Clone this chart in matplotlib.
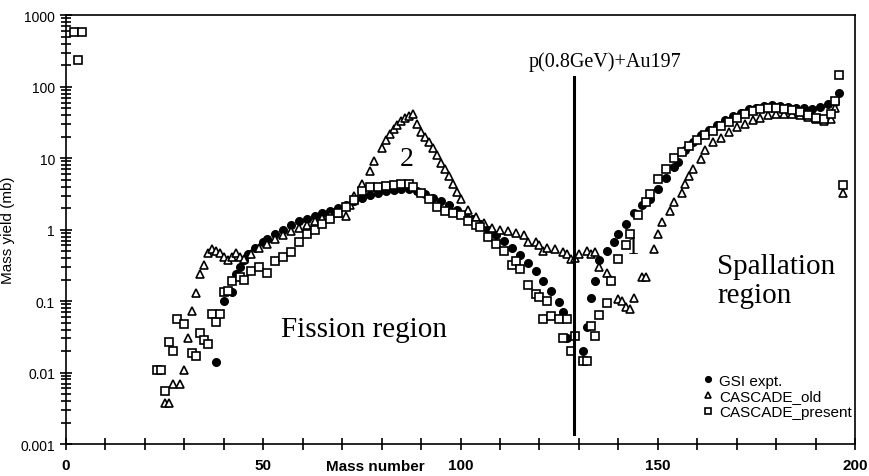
import matplotlib
matplotlib.use("Agg")
import matplotlib.pyplot as plt
from matplotlib.ticker import MultipleLocator, LogLocator, FixedLocator, FixedFormatter

# data
gsi_a = [38, 40, 42, 43, 44, 45, 46, 48, 50, 51, 53, 55, 57, 59, 61, 63, 65, 67, 69, 71,
         73, 75, 77, 79, 81, 83, 85, 87, 89, 91, 93, 95, 97, 99, 101, 103, 105, 107, 109,
         111, 113, 115, 117, 119, 121, 123, 125, 126, 127, 131, 132, 133, 134, 135, 137,
         139, 140, 142, 144, 146, 148, 150, 152, 154, 155, 157, 159, 161, 163, 165, 167,
         169, 171, 173, 175, 177, 179, 181, 183, 185, 187, 189, 191, 193, 195, 196]
gsi_y = [0.014, 0.10, 0.135, 0.24, 0.30, 0.38, 0.45, 0.55, 0.68, 0.74, 0.87, 1.0, 1.15,
         1.3, 1.4, 1.55, 1.7, 1.85, 2.0, 2.2, 2.5, 2.8, 3.1, 3.3, 3.5, 3.6, 3.7, 3.7, 3.5,
         3.2, 2.8, 2.5, 2.2, 1.9, 1.6, 1.4, 1.2, 1.0, 0.85, 0.7, 0.55, 0.44, 0.34, 0.26,
         0.19, 0.14, 0.098, 0.071, 0.03, 0.02, 0.044, 0.11, 0.19, 0.37, 0.5, 0.67, 0.87,
         1.2, 1.7, 2.2, 2.7, 3.7, 5.2, 7.5, 8.7, 13, 17, 21, 25, 29, 34, 39, 43, 48, 51,
         54, 55, 54, 52, 51, 50, 49, 52, 58, 62, 81]

old_a = [25, 26, 27, 29, 30, 31, 32, 33, 34, 35, 36, 37, 38, 39, 40, 41, 42, 43, 44, 45,
         47, 49, 51, 53, 55, 57, 59, 61, 63, 65, 67, 69, 71, 72, 73, 75, 77, 78, 80, 81,
         82, 83, 84, 85, 86, 87, 88, 89, 90, 91, 92, 93, 94, 95, 96, 97, 98, 99, 100, 102,
         104, 106, 108, 110, 112, 114, 116, 117, 119, 120, 121, 122, 124, 126, 127, 128,
         129, 130, 132, 133, 134, 135, 137, 138, 140, 141, 142, 143, 144, 146, 147, 149,
         150, 151, 153, 154, 156, 157, 158, 159, 161, 162, 164, 166, 168, 170, 172, 174,
         176, 178, 180, 182, 184, 186, 188, 190, 192, 194, 195, 197]
old_y = [0.0037, 0.0037, 0.007, 0.007, 0.0107, 0.03, 0.073, 0.13, 0.24, 0.32, 0.47, 0.53,
         0.50, 0.47, 0.42, 0.37, 0.42, 0.47, 0.42, 0.39, 0.45, 0.55, 0.62, 0.75, 0.85,
         0.95, 1.05, 1.15, 1.3, 1.45, 1.6, 1.7, 1.55, 2.2, 3.0, 4.4, 6.6, 9.0, 14, 18, 22,
         26, 29, 33, 36, 39, 42, 30, 23, 20, 17, 14, 11, 8.5, 7.0, 5.6, 4.4, 3.4, 2.7, 1.9,
         1.5, 1.25, 1.05, 1.0, 0.95, 0.9, 0.85, 0.67, 0.68, 0.6, 0.5, 0.55, 0.53, 0.48,
         0.45, 0.39, 0.4, 0.46, 0.5, 0.45, 0.48, 0.3, 0.25, 0.2, 0.107, 0.1, 0.083, 0.077,
         0.11, 0.22, 0.22, 0.54, 0.87, 1.26, 1.8, 2.4, 3.3, 4.4, 5.6, 7.0, 9.8, 13, 17, 19,
         23, 27, 30, 34, 37, 40, 41, 42, 41, 40, 38, 35, 33, 35, 51, 3.3]

new_a = [2, 3, 4, 23, 24, 25, 26, 27, 28, 30, 32, 33, 34, 35, 36, 37, 38, 39, 40, 41, 42,
         44, 45, 47, 49, 51, 53, 55, 57, 59, 61, 63, 65, 67, 69, 71, 73, 75, 77, 79, 81,
         83, 85, 87, 88, 90, 92, 94, 96, 98, 100, 102, 104, 105, 107, 109, 111, 113, 114,
         115, 117, 119, 120, 121, 122, 123, 125, 126, 127, 128, 129, 131, 132, 133, 134,
         135, 137, 138, 140, 142, 143, 145, 147, 148, 150, 152, 154, 156, 158, 160, 162,
         164, 166, 168, 170, 172, 174, 176, 178, 180, 182, 184, 186, 188, 190, 192, 194,
         195, 196, 197]
new_y = [580, 235, 580, 0.011, 0.011, 0.0055, 0.027, 0.02, 0.056, 0.048, 0.019, 0.017,
         0.036, 0.029, 0.025, 0.066, 0.051, 0.066, 0.135, 0.14, 0.19, 0.22, 0.2, 0.26, 0.3,
         0.25, 0.36, 0.42, 0.49, 0.67, 0.87, 1.0, 1.2, 1.4, 1.7, 2.1, 2.6, 3.5, 3.9, 4.0,
         4.1, 4.2, 4.4, 4.4, 4.0, 3.3, 2.7, 2.1, 1.8, 1.7, 1.6, 1.3, 1.15, 1.1, 0.79, 0.63,
         0.5, 0.32, 0.36, 0.28, 0.17, 0.126, 0.115, 0.056, 0.1, 0.062, 0.056, 0.03, 0.056,
         0.02, 0.032, 0.0145, 0.0145, 0.045, 0.032, 0.063, 0.093, 0.19, 0.39, 0.6, 0.87,
         1.6, 2.4, 3.2, 5.1, 7.0, 10, 12, 15, 18, 21, 24, 28, 32, 37, 41, 45, 48, 51, 51,
         49, 47, 44, 40, 37, 35, 41, 63, 145, 4.2]

y_ticks = [0.001, 0.01, 0.1, 1, 10, 100, 1000]
y_tick_labels = ["0.001", "0.01", "0.1", "1", "10", "100", "1000"]
x_ticks = [0, 50, 100, 150, 200]
x_tick_labels = ["0", "50", "100", "150", "200"]

sans = "Liberation Sans"
serif = "Liberation Serif"

fig = plt.figure(figsize=(8.7, 4.77), dpi=100)
ax = fig.add_axes([0.0759, 0.067, 0.907, 0.899])

ax.plot(gsi_a, gsi_y, "o", color="black", ms=5.5, label="GSI expt.")
ax.plot(old_a, old_y, "^", mfc="white", mec="black", mew=1.2, ms=6, label="CASCADE_old")
ax.plot(new_a, new_y, "s", mfc="white", mec="black", mew=1.2, ms=5.5, label="CASCADE_present")

# reaction line
ax.plot([128.7, 128.7], [0.00138, 135], color="black", lw=2.2)

ax.set_yscale("log")
ax.set_xlim(0, 200)
ax.set_ylim(0.001, 1000)

ax.xaxis.set_major_locator(FixedLocator(x_ticks))
ax.xaxis.set_major_formatter(FixedFormatter(x_tick_labels))
ax.xaxis.set_minor_locator(MultipleLocator(10))
ax.yaxis.set_major_locator(FixedLocator(y_ticks))
ax.yaxis.set_major_formatter(FixedFormatter(y_tick_labels))
ax.yaxis.set_minor_locator(LogLocator(base=10, subs=range(2, 10), numticks=20))
ax.tick_params(axis="both", which="both", direction="inout", width=1.2, color="black")
ax.tick_params(axis="x", which="both", length=8, pad=6)
ax.tick_params(axis="y", which="major", length=9)
ax.tick_params(axis="y", which="minor", length=7, labelleft=False)
for lab in ax.get_xticklabels():
    lab.set_fontfamily(sans)
    lab.set_fontweight("bold")
    lab.set_fontsize(11)
for lab in ax.get_yticklabels():
    lab.set_fontfamily(sans)
    lab.set_fontsize(10)
for sp in ax.spines.values():
    sp.set_linewidth(1.2)

ax.set_ylabel("Mass yield (mb)", fontfamily=sans, fontsize=11, labelpad=4)
fig.text(0.431, 0.022, "Mass number", fontfamily=sans, fontweight="bold",
         fontsize=11, ha="center", va="center")

disp = fig.dpi_scale_trans
H = 477


def px(x, y):
    # pixel position in the 870x477 picture -> inches
    return (x / 100.0, (H - y) / 100.0)


ax.text(*px(605, 62), "p(0.8GeV)+Au197", transform=disp, fontsize=14.5, fontfamily=serif,
        ha="center", va="center")
ax.text(*px(364, 330), "Fission region", transform=disp, fontsize=21, fontfamily=serif,
        ha="center", va="center")
ax.text(*px(717, 282), "Spallation\nregion", transform=disp, fontsize=21, fontfamily=serif,
        ha="left", va="center", linespacing=1.15)
ax.text(*px(407, 160), "2", transform=disp, fontsize=20, fontfamily=serif,
        ha="center", va="center")
ax.text(*px(633, 248), "1", transform=disp, fontsize=18, fontfamily=serif,
        ha="center", va="center")

leg = ax.legend(loc="upper left", bbox_to_anchor=(0.8, 0.178), frameon=False,
                prop={"family": sans, "size": 11}, handlelength=0.6,
                handletextpad=0.45, labelspacing=0.1, borderaxespad=0, markerscale=0.75)

fig.savefig("out.png", dpi=100)
